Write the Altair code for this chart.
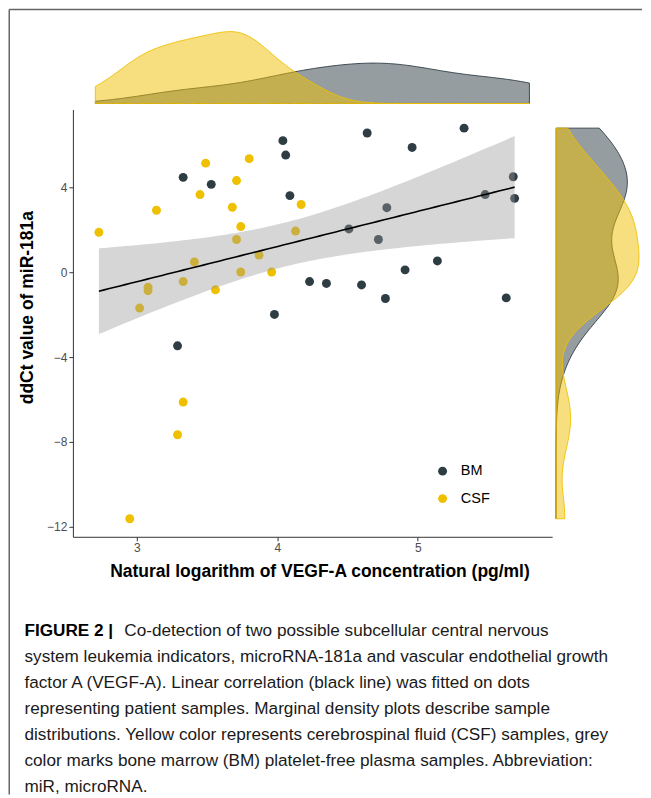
import altair as alt
import numpy as np
import pandas as pd

# ---- data ----
bm_x = [4.04, 4.06, 3.33, 3.53, 4.09, 4.23, 3.98, 4.64, 5.33, 4.96, 5.68, 5.48,
        5.69, 4.78, 4.51, 4.72, 5.14, 4.91, 4.35, 4.60, 4.77, 5.63, 3.29]
bm_y = [6.20, 5.52, 4.47, 4.14, 3.61, -0.44, -1.99, 6.56, 6.79, 5.88, 4.50, 3.66,
        3.48, 3.04, 2.04, 1.54, 0.53, 0.11, -0.53, -0.60, -1.24, -1.21, -3.47]
csf_x = [3.49, 3.80, 3.71, 3.45, 3.14, 3.68, 4.17, 2.73, 3.74, 3.71, 4.13, 3.41,
         3.87, 3.08, 3.08, 3.33, 3.74, 3.96, 3.56, 3.02, 3.33, 3.29, 2.95]
csf_y = [5.14, 5.35, 4.32, 3.66, 2.92, 3.06, 3.19, 1.88, 2.15, 1.54, 1.94, 0.48,
         0.81, -0.71, -0.87, -0.44, 0.01, 0.01, -0.83, -1.69, -6.12, -7.66, -11.62]
groups = ["BM", "CSF"]
x_ticks = [3, 4, 5]
y_ticks = [-12, -8, -4, 0, 4]
x_title = "Natural logarithm of VEGF-A concentration (pg/ml)"
y_title = "ddCt value of miR-181a"
caption_bold = ["FIGURE 2 |"]
caption_first = ["Co-detection of two possible subcellular central nervous"]
caption_rest = [
    "system leukemia indicators, microRNA-181a and vascular endothelial growth",
    "factor A (VEGF-A). Linear correlation (black line) was fitted on dots",
    "representing patient samples. Marginal density plots describe sample",
    "distributions. Yellow color represents cerebrospinal fluid (CSF) samples, grey",
    "color marks bone marrow (BM) platelet-free plasma samples. Abbreviation:",
    "miR, microRNA.",
]

DARK = "#2E3C44"
YEL = "#EFC000"
FONT = "Liberation Sans"

# ---- derived tables ----
pts = pd.DataFrame({
    "x": bm_x + csf_x,
    "y": bm_y + csf_y,
    "g": [groups[0]] * len(bm_x) + [groups[1]] * len(csf_x),
})

xa = np.array(bm_x + csf_x)
ya = np.array(bm_y + csf_y)
n = len(xa)
slope, icpt = np.polyfit(xa, ya, 1)
grid = np.linspace(xa.min(), xa.max(), 80)
fit = icpt + slope * grid
resid = ya - (icpt + slope * xa)
s = np.sqrt((resid ** 2).sum() / (n - 2))
sxx = ((xa - xa.mean()) ** 2).sum()
se = s * np.sqrt(1.0 / n + (grid - xa.mean()) ** 2 / sxx)
tq = 2.0154
band_df = pd.DataFrame({"x": grid, "fit": fit, "lo": fit - tq * se, "hi": fit + tq * se})


def nrd0(v):
    v = np.asarray(v, dtype=float)
    q75, q25 = np.percentile(v, [75, 25])
    lo = min(v.std(ddof=1), (q75 - q25) / 1.34)
    return float(0.9 * lo * len(v) ** -0.2)


xs = alt.Scale(domain=[2.545, 5.957], nice=False, zero=False)
ys = alt.Scale(domain=[-12.47, 7.67], nice=False, zero=False)
top_xs = alt.Scale(domain=[2.577, 5.845], nice=False, zero=False)

W, H = 480, 428

# ---- main scatter ----
points = alt.Chart(pts).mark_circle(size=80, opacity=1).encode(
    x=alt.X("x:Q", scale=xs, title=x_title,
            axis=alt.Axis(values=x_ticks, format="d", titleX=247)),
    y=alt.Y("y:Q", scale=ys, title=y_title,
            axis=alt.Axis(values=y_ticks, format="d", titleY=198)),
    color=alt.Color("g:N", scale=alt.Scale(domain=groups, range=[DARK, YEL]),
                    legend=alt.Legend(title=None, orient="none", legendX=363, legendY=355,
                                      symbolType="circle", symbolSize=80,
                                      symbolStrokeWidth=0, labelFontSize=14.5,
                                      labelColor="black", labelFont=FONT,
                                      rowPadding=12.5, labelOffset=11)),
)
band = alt.Chart(band_df).mark_area(color="#999999", opacity=0.4).encode(
    x=alt.X("x:Q", scale=xs, title=x_title),
    y=alt.Y("lo:Q", scale=ys, title=y_title),
    y2="hi:Q",
)
fitline = alt.Chart(band_df).mark_line(color="black", strokeWidth=1.6).encode(
    x=alt.X("x:Q", scale=xs, title=x_title),
    y=alt.Y("fit:Q", scale=ys, title=y_title),
)

one = pd.DataFrame({"k": [0]})
frame_left = alt.Chart(one).mark_rule(color="#666666", strokeWidth=1.5).encode(
    x=alt.value(-63.75), y=alt.value(-100), y2=alt.value(686))
frame_top = alt.Chart(one).mark_rule(color="#666666", strokeWidth=1.5).encode(
    x=alt.value(-63.75), x2=alt.value(570), y=alt.value(-100))

cap_b = alt.Chart(pd.DataFrame({"t": caption_bold})).mark_text(
    align="left", baseline="alphabetic", font=FONT, fontSize=17.2, fontWeight="bold",
    color="black").encode(text="t:N", x=alt.value(-48.5), y=alt.value(527.25))
cap_f = alt.Chart(pd.DataFrame({"t": caption_first})).mark_text(
    align="left", baseline="alphabetic", font=FONT, fontSize=17.2,
    color="#1a1a1a").encode(text="t:N", x=alt.value(51.5), y=alt.value(527.25))
cap_r = alt.Chart(pd.DataFrame({"t": ["\n".join(caption_rest)]})).mark_text(
    align="left", baseline="alphabetic", font=FONT, fontSize=17.2, lineBreak="\n",
    lineHeight=26, color="#1a1a1a").encode(text="t:N", x=alt.value(-48.5), y=alt.value(553.25))

main = alt.layer(points, band, fitline, frame_left, frame_top, cap_b, cap_f, cap_r).properties(
    width=W, height=H)


# ---- marginal densities ----
def top_layer(vals, color):
    d = pd.DataFrame({"v": vals})
    return alt.Chart(d).transform_density(
        "v", bandwidth=nrd0(vals), extent=[float(xa.min()), float(xa.max())],
        steps=200, as_=["v", "density"]
    ).mark_area(fill=color, fillOpacity=0.5, stroke=color, strokeWidth=0.9).encode(
        x=alt.X("v:Q", scale=top_xs, axis=None),
        y=alt.Y("density:Q", axis=None, scale=alt.Scale(nice=False, zero=True)),
    )


def right_layer(vals, color):
    d = pd.DataFrame({"v": vals})
    return alt.Chart(d).transform_density(
        "v", bandwidth=nrd0(vals), extent=[float(ya.min()), float(ya.max())],
        steps=200, as_=["v", "density"]
    ).mark_area(orient="horizontal", fill=color, fillOpacity=0.5, stroke=color,
                strokeWidth=0.9).encode(
        y=alt.Y("v:Q", scale=ys, axis=None),
        x=alt.X("density:Q", axis=None, scale=alt.Scale(nice=False, zero=True)),
    )


top = alt.layer(top_layer(bm_x, DARK), top_layer(csf_x, YEL)).properties(width=W, height=72)
right = alt.layer(right_layer(bm_y, DARK), right_layer(csf_y, YEL)).properties(width=83, height=H)

mid = alt.hconcat(main, right, spacing=4, bounds="flush").resolve_scale(color="independent")

chart = alt.vconcat(top, mid, spacing=6, bounds="flush").resolve_scale(
    color="independent"
).properties(padding=0).configure(font=FONT, background="white").configure_view(
    stroke=None
).configure_axis(
    grid=False, domainColor="#333333", domainWidth=1, tickColor="#333333", tickSize=4,
    labelColor="#4D4D4D", labelFontSize=12, labelFont=FONT, labelPadding=2,
    titleFont=FONT, titleFontSize=17.5, titleFontWeight="bold", titleColor="black"
).configure_axisX(titlePadding=9).configure_axisY(titlePadding=10)

chart.save("out.html", embed_options={"renderer": "svg", "actions": False})
